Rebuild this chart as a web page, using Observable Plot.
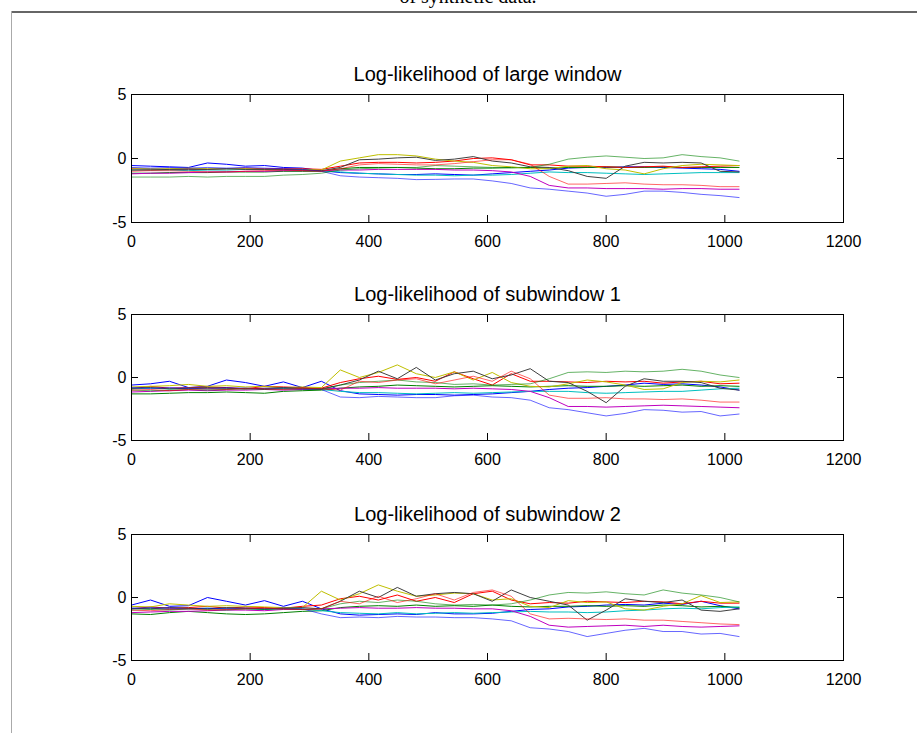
<!DOCTYPE html>
<html>
<head>
<meta charset="utf-8">
<script src="https://cdn.jsdelivr.net/npm/d3@7"></script>
<script src="https://cdn.jsdelivr.net/npm/@observablehq/plot@0.6"></script>
<style>
  html, body { margin: 0; padding: 0; background: #fff; }
  body { width: 917px; height: 733px; overflow: hidden; position: relative; font-family: "Liberation Sans", Arial, sans-serif; }
  #topline { position: absolute; left: 11px; top: 11px; width: 906px; height: 0; border-top: 2px solid #666; }
  #leftline { position: absolute; left: 11px; top: 11px; width: 0; height: 722px; border-left: 1px solid #aaa; }
  #suptitle { position: absolute; left: 0; width: 936px; text-align: center; top: -15px; font: 20px "Liberation Serif", "DejaVu Serif", serif; color: #000; }
  .panel { position: absolute; left: 0; }
</style>
</head>
<body>
<div id="suptitle">of synthetic data.</div>
<div id="topline"></div>
<div id="leftline"></div>
<div id="p0" class="panel"></div>
<div id="p1" class="panel"></div>
<div id="p2" class="panel"></div>
<script>
// ---------------- data ----------------
const seriesNames = ["b1", "g1", "r1", "c", "m", "y", "k", "b2", "g2", "r2"];
const seriesColors = ["#0000ff", "#008000", "#ff0000", "#00bfbf", "#bf00bf", "#bfbf00", "#404040", "#0000ff", "#008000", "#ff0000"];
const secondSet = ["b2", "g2", "r2"];

const xSamples = [0, 32, 64, 96, 128, 160, 192, 224, 256, 288, 320, 352, 384, 416, 448, 480, 512,
  544, 576, 608, 640, 672, 704, 736, 768, 800, 832, 864, 896, 928, 960, 992, 1024];

const xTicks = [0, 200, 400, 600, 800, 1000, 1200];
const yTicks = [-5, 0, 5];

const panelTitles = ["Log-likelihood of large window", "Log-likelihood of subwindow 1", "Log-likelihood of subwindow 2"];

// series order follows seriesNames
const largeWindow = [
  [-0.55,-0.6,-0.65,-0.7,-0.35,-0.45,-0.6,-0.55,-0.7,-0.75,-0.95,-1.1,-1.15,-1.2,-1.25,-1.25,-1.2,-1.25,-1.3,-1.2,-1.1,-1.0,-0.9,-0.75,-0.7,-0.7,-0.65,-0.65,-0.7,-0.75,-0.8,-0.85,-1.0],
  [-1.15,-1.15,-1.1,-1.1,-1.1,-1.05,-1.05,-1.05,-1.0,-1.0,-1.0,-0.8,-0.7,-0.7,-0.7,-0.75,-0.8,-0.8,-0.75,-0.75,-0.7,-0.7,-0.75,-0.7,-0.7,-0.65,-0.7,-0.7,-0.65,-0.7,-0.7,-0.7,-0.7],
  [-0.8,-0.85,-0.85,-0.8,-0.85,-0.8,-0.75,-0.8,-0.8,-0.8,-0.85,-0.6,-0.35,-0.3,-0.3,-0.35,-0.3,-0.2,0.0,0.05,-0.1,-0.5,-0.5,-0.6,-0.6,-0.65,-0.7,-0.65,-0.6,-0.7,-0.65,-0.6,-0.55],
  [-0.9,-0.9,-0.9,-0.95,-0.9,-0.9,-0.85,-0.85,-0.9,-0.9,-0.95,-1.05,-1.15,-1.2,-1.25,-1.3,-1.3,-1.35,-1.3,-1.3,-1.25,-1.15,-1.05,-1.1,-1.1,-1.15,-1.2,-1.25,-1.2,-1.15,-1.1,-1.1,-1.1],
  [-1.2,-1.15,-1.15,-1.1,-1.05,-1.05,-1.0,-1.0,-0.95,-0.95,-0.95,-0.9,-0.9,-0.85,-0.85,-0.85,-0.85,-0.9,-0.9,-0.95,-1.05,-1.4,-2.1,-2.3,-2.3,-2.35,-2.35,-2.35,-2.4,-2.35,-2.35,-2.4,-2.4],
  [-0.75,-0.8,-0.8,-0.75,-0.8,-0.8,-0.8,-0.85,-0.85,-0.85,-0.9,-0.2,0.05,0.3,0.3,0.2,-0.05,-0.2,-0.3,-0.55,-0.65,-0.8,-0.8,-0.6,-0.55,-0.8,-0.9,-1.2,-0.8,-0.55,-0.45,-0.5,-0.55],
  [-0.9,-0.9,-0.85,-0.85,-0.85,-0.8,-0.85,-0.85,-0.85,-0.9,-0.95,-0.7,-0.1,-0.05,0.05,0.1,-0.15,-0.05,0.15,-0.2,-0.35,-0.65,-0.7,-0.95,-1.4,-1.55,-0.6,-0.3,-0.35,-0.3,-0.35,-1.0,-1.05],
  [-0.7,-0.75,-0.7,-0.75,-0.7,-0.75,-0.7,-0.75,-0.8,-0.85,-1.0,-1.35,-1.45,-1.5,-1.55,-1.65,-1.63,-1.6,-1.6,-1.75,-1.95,-2.3,-2.4,-2.55,-2.7,-2.95,-2.8,-2.55,-2.55,-2.65,-2.8,-2.9,-3.05],
  [-1.45,-1.45,-1.45,-1.4,-1.45,-1.4,-1.4,-1.4,-1.3,-1.25,-1.15,-0.9,-0.8,-0.75,-0.7,-0.7,-0.55,-0.6,-0.65,-0.7,-0.75,-0.7,-0.45,-0.05,0.1,0.2,0.1,0.0,0.05,0.3,0.15,0.05,-0.2],
  [-1.0,-0.95,-0.95,-1.0,-1.05,-1.05,-1.0,-0.95,-0.9,-0.95,-1.0,-0.8,-0.5,-0.4,-0.45,-0.5,-0.5,-0.4,-0.25,-0.1,-0.1,-0.45,-1.4,-2.0,-2.0,-1.95,-1.9,-2.0,-2.05,-2.05,-2.1,-2.2,-2.2]
];

const subwindow1 = [
  [-0.6,-0.5,-0.3,-0.8,-0.7,-0.2,-0.4,-0.7,-0.35,-0.8,-0.3,-1.05,-1.3,-1.35,-1.4,-1.35,-1.35,-1.4,-1.35,-1.3,-1.2,-1.1,-0.95,-0.85,-0.8,-0.7,-0.6,-0.45,-0.55,-0.5,-0.6,-0.75,-1.0],
  [-1.3,-1.3,-1.25,-1.2,-1.2,-1.15,-1.2,-1.25,-1.1,-1.05,-1.0,-0.85,-0.75,-0.7,-0.6,-0.65,-0.7,-0.75,-0.7,-0.65,-0.7,-0.75,-0.7,-0.65,-0.7,-0.7,-0.65,-0.7,-0.65,-0.6,-0.7,-0.65,-0.7],
  [-0.9,-0.7,-0.85,-0.8,-0.75,-0.8,-0.9,-0.7,-0.75,-0.8,-0.85,-0.4,-0.1,0.1,-0.15,0.0,-0.3,0.45,-0.1,-0.6,0.3,-0.3,-0.3,-0.35,-0.4,-0.3,-0.35,-0.3,-0.45,-0.35,-0.3,-0.5,-0.45],
  [-0.9,-0.85,-0.9,-0.85,-0.9,-0.9,-0.85,-0.9,-0.9,-0.95,-0.95,-1.1,-1.2,-1.2,-1.25,-1.3,-1.25,-1.2,-1.25,-1.2,-1.15,-1.1,-1.1,-1.1,-1.2,-1.25,-1.2,-1.15,-1.1,-1.1,-1.0,-0.9,-0.85],
  [-1.15,-1.1,-1.05,-1.0,-1.05,-1.0,-1.0,-0.95,-1.0,-0.95,-0.9,-0.85,-0.85,-0.8,-0.85,-0.85,-0.85,-0.9,-0.85,-0.9,-0.95,-1.1,-1.6,-2.3,-2.3,-2.35,-2.3,-2.25,-2.2,-2.25,-2.3,-2.35,-2.4],
  [-0.75,-0.7,-0.65,-0.55,-0.7,-0.65,-0.75,-0.7,-0.8,-0.75,-0.8,0.6,0.0,0.4,1.0,0.3,0.0,0.45,-0.2,0.4,-0.4,-0.7,-0.75,-0.5,-0.2,-0.35,-0.6,-0.95,-0.9,-0.4,-0.3,-0.35,-0.2],
  [-0.85,-0.8,-0.9,-0.85,-0.8,-0.85,-0.9,-0.85,-0.8,-0.85,-0.9,-0.6,-0.2,0.5,-0.1,0.8,-0.2,0.3,0.5,-0.1,0.2,0.7,-0.3,-0.4,-1.1,-2.0,-0.7,-0.1,-0.3,-0.3,-0.4,-0.85,-1.0],
  [-0.8,-0.85,-0.8,-0.85,-0.9,-0.8,-0.85,-0.9,-0.85,-0.9,-0.95,-1.55,-1.6,-1.5,-1.55,-1.6,-1.6,-1.45,-1.4,-1.55,-1.6,-1.8,-2.4,-2.55,-2.8,-3.05,-2.85,-2.55,-2.6,-2.75,-2.7,-3.05,-2.9],
  [-1.0,-1.05,-1.0,-0.95,-1.0,-0.95,-0.9,-0.95,-0.9,-0.9,-0.95,-0.6,-0.4,-0.3,-0.2,-0.35,-0.4,-0.55,-0.5,-0.6,-0.55,-0.5,-0.1,0.4,0.45,0.4,0.5,0.45,0.5,0.65,0.5,0.2,0.0],
  [-1.0,-0.95,-1.05,-0.95,-0.9,-0.95,-0.85,-0.9,-0.95,-0.85,-0.9,-1.0,-0.3,-0.4,-0.2,-0.1,-0.5,-0.2,0.1,-0.3,0.5,-0.1,-1.4,-1.65,-1.65,-1.6,-1.7,-1.7,-1.75,-1.7,-1.8,-1.95,-1.95]
];

const subwindow2 = [
  [-0.6,-0.2,-0.7,-0.65,0.0,-0.3,-0.6,-0.25,-0.7,-0.3,-0.9,-1.3,-1.4,-1.35,-1.3,-1.35,-1.2,-1.3,-1.3,-1.25,-1.1,-0.95,-0.9,-0.75,-0.7,-0.6,-0.55,-0.6,-0.45,-0.55,-0.3,-0.65,-0.9],
  [-1.3,-1.35,-1.2,-1.1,-1.2,-1.3,-1.35,-1.3,-1.2,-1.1,-1.05,-0.8,-0.7,-0.65,-0.7,-0.6,-0.7,-0.65,-0.7,-0.6,-0.7,-0.75,-0.7,-0.7,-0.65,-0.7,-0.65,-0.7,-0.6,-0.65,-0.75,-0.7,-0.8],
  [-0.9,-0.75,-0.85,-0.8,-0.7,-0.85,-0.75,-0.8,-0.85,-0.7,-0.6,-0.1,0.1,-0.2,0.2,-0.3,0.0,-0.4,0.3,0.5,-0.2,-0.5,-0.4,-0.45,-0.3,-0.35,-0.4,-0.3,-0.35,-0.5,-0.3,-0.45,-0.45],
  [-0.9,-0.85,-0.95,-0.9,-0.85,-0.9,-0.9,-0.95,-0.9,-0.9,-1.05,-1.2,-1.25,-1.3,-1.2,-1.3,-1.25,-1.2,-1.25,-1.2,-1.15,-1.1,-1.15,-1.15,-1.2,-1.15,-1.05,-1.0,-0.9,-0.85,-0.9,-0.8,-0.75],
  [-1.2,-1.15,-1.1,-1.1,-1.05,-1.0,-1.0,-1.05,-0.95,-0.95,-0.9,-0.85,-0.8,-0.85,-0.85,-0.8,-0.85,-0.85,-0.9,-0.9,-1.05,-1.5,-2.2,-2.35,-2.3,-2.25,-2.2,-2.3,-2.2,-2.3,-2.35,-2.3,-2.25],
  [-0.7,-0.75,-0.5,-0.6,-0.7,-0.65,-0.7,-0.75,-0.8,-0.8,0.5,-0.2,0.3,1.0,0.5,0.1,0.2,0.35,0.3,-0.2,-0.1,-0.7,-0.8,-0.25,-0.4,-0.35,-0.9,-1.0,-0.7,-0.5,0.15,-0.4,-0.35],
  [-0.85,-0.9,-0.8,-0.85,-0.9,-0.8,-0.85,-0.9,-0.85,-0.8,-0.9,-0.3,0.5,0.0,0.8,0.1,0.3,0.4,0.3,-0.3,0.6,0.0,-0.3,-0.6,-1.8,-1.0,-0.1,-0.3,-0.4,-0.2,-1.0,-1.1,-0.9],
  [-0.85,-0.8,-0.85,-0.9,-0.85,-0.9,-0.85,-0.9,-0.85,-0.9,-1.3,-1.6,-1.55,-1.6,-1.5,-1.55,-1.55,-1.6,-1.6,-1.7,-1.85,-2.4,-2.5,-2.7,-3.1,-2.85,-2.6,-2.45,-2.7,-2.7,-2.9,-2.85,-3.1],
  [-1.0,-0.95,-1.0,-0.9,-0.95,-1.0,-0.9,-0.95,-0.9,-0.95,-0.9,-0.5,-0.3,-0.4,-0.2,-0.3,-0.5,-0.6,-0.55,-0.6,-0.5,-0.2,0.2,0.4,0.35,0.45,0.3,0.2,0.6,0.35,0.2,0.0,-0.35],
  [-1.0,-1.05,-0.95,-0.9,-1.0,-0.95,-0.9,-0.85,-0.9,-0.95,-0.9,-0.3,-0.5,0.1,-0.4,-0.1,0.3,-0.2,0.4,0.6,0.1,-1.3,-1.7,-1.65,-1.7,-1.75,-1.7,-1.8,-1.8,-1.9,-2.0,-2.1,-2.15]
];

const panels = [largeWindow, subwindow1, subwindow2];

// ---------------- layout (styles) ----------------
const layout = [
  {top: 50, frameTop: 94, frameBottom: 222},
  {top: 270, frameTop: 314, frameBottom: 440},
  {top: 490, frameTop: 534, frameBottom: 660}
];

function tidy(values) {
  const rows = [];
  values.forEach((arr, i) => {
    arr.forEach((v, j) => rows.push({x: xSamples[j], y: v, s: seriesNames[i]}));
  });
  return rows;
}

panels.forEach((values, p) => {
  const L = layout[p];
  const rows = tidy(values);
  const marginBottom = 30;
  const chart = Plot.plot({
    width: 917,
    height: L.frameBottom - L.top + marginBottom,
    marginLeft: 131,
    marginRight: 74,
    marginTop: L.frameTop - L.top,
    marginBottom,
    style: {fontSize: "16px", fontFamily: "'Liberation Sans', Arial, sans-serif", color: "#000", background: "transparent", overflow: "visible"},
    x: {domain: [0, 1200], label: null},
    y: {domain: [-5, 5], label: null},
    color: {type: "ordinal", domain: seriesNames, range: seriesColors},
    marks: [
      Plot.line(rows.filter(d => !secondSet.includes(d.s)), {x: "x", y: "y", z: "s", stroke: "s", strokeWidth: 1}),
      Plot.line(rows.filter(d => secondSet.includes(d.s)), {x: "x", y: "y", z: "s", stroke: "s", strokeWidth: 1, strokeOpacity: 0.6}),
      Plot.frame({stroke: "#000"}),
      Plot.axisX({anchor: "bottom", ticks: xTicks, tickSize: -7, tickPadding: 20, tickFormat: d => String(d), label: null}),
      Plot.axisX({anchor: "top", ticks: xTicks, tickSize: -7, tickFormat: () => "", label: null}),
      Plot.axisY({anchor: "left", ticks: yTicks, tickSize: -7, tickPadding: 12, tickFormat: d => String(d), label: null}),
      Plot.axisY({anchor: "right", ticks: yTicks, tickSize: -7, tickFormat: () => "", label: null}),
      Plot.text([panelTitles[p]], {frameAnchor: "top", dy: -14, lineAnchor: "bottom", fontSize: 20, text: d => d})
    ]
  });
  const host = document.getElementById("p" + p);
  host.style.top = L.top + "px";
  host.appendChild(chart);
});
</script>
</body>
</html>
